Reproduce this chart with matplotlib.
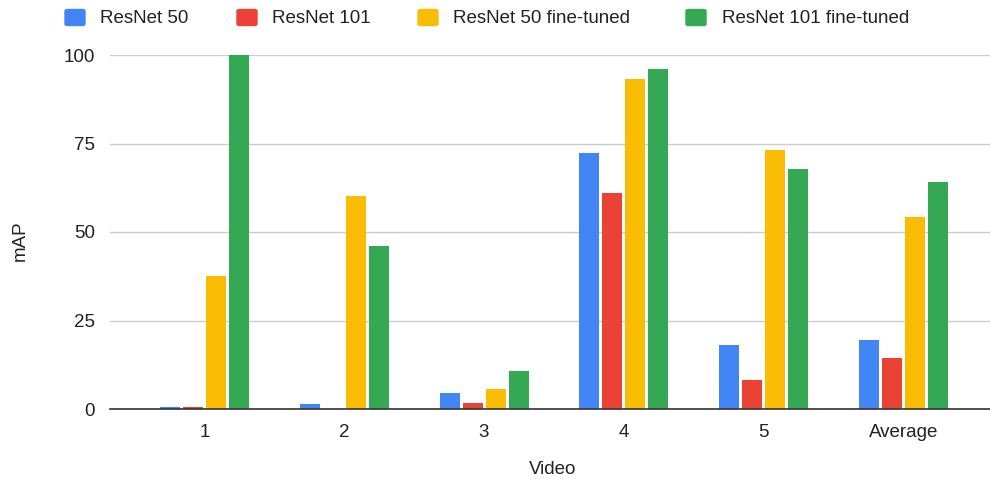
#!/usr/bin/env python3
"""mAP per video for ResNet backbones, before and after fine-tuning."""

import matplotlib
matplotlib.use("Agg")
import matplotlib.pyplot as plt
from matplotlib.patches import FancyBboxPatch
import numpy as np

videos = ["1", "2", "3", "4", "5", "Average"]
series = ["ResNet 50", "ResNet 101", "ResNet 50 fine-tuned", "ResNet 101 fine-tuned"]
resnet50 = [0.5, 1.4, 4.5, 72.3, 18.1, 19.5]
resnet101 = [0.5, 0.0, 1.7, 61.0, 8.2, 14.4]
resnet50_ft = [37.6, 60.2, 5.6, 93.2, 73.2, 54.2]
resnet101_ft = [100.0, 46.0, 10.7, 96.0, 67.8, 64.1]
yticks = [0, 25, 50, 75, 100]

COLORS = ["#4285F4", "#EA4335", "#FBBC04", "#34A853"]
FS = 13.5
W, H = 990, 479
# legend: left edge of swatch and of label, in pixels
LEG_SWATCH_X = [65, 237, 418, 686]
LEG_TEXT_X = [100, 272, 453, 722]


def main() -> None:
    plt.rcParams["font.family"] = ["Liberation Sans", "DejaVu Sans"]

    fig = plt.figure(figsize=(W / 100, H / 100), dpi=100)
    ax = fig.add_axes([110 / W, 70 / H, 880 / W, 354 / H])

    x = np.arange(len(videos))
    pitch = 0.1645
    width = 0.143
    values = [resnet50, resnet101, resnet50_ft, resnet101_ft]
    for i, (name, vals) in enumerate(zip(series, values)):
        ax.bar(x + (i - 1.5) * pitch, vals, width=width, color=COLORS[i],
               label=name, zorder=3)

    ax.set_xlim(-0.676, 5.62)
    ax.set_ylim(0, 100)
    ax.set_yticks(yticks)
    ax.set_xticks(x)
    ax.set_xticklabels(videos)
    ax.tick_params(axis="both", length=0, labelsize=FS, colors="#222222")
    ax.tick_params(axis="x", pad=11)
    ax.tick_params(axis="y", pad=11)
    ax.grid(axis="y", color="#cccccc", linewidth=1, zorder=0)
    for side in ["top", "right", "left"]:
        ax.spines[side].set_visible(False)
    ax.spines["bottom"].set_color("#333333")
    ax.spines["bottom"].set_linewidth(1.2)
    ax.spines["bottom"].set_zorder(4)

    fig.text(20 / W, 1 - 241 / H, "mAP", rotation=90, ha="center", va="center",
             fontsize=FS, color="#222222")
    fig.text(553 / W, 1 - 469 / H, "Video", ha="center", va="center",
             fontsize=FS, color="#222222")

    # legend drawn by hand so the entries sit where the reference has them
    for i, name in enumerate(series):
        sw = FancyBboxPatch((LEG_SWATCH_X[i] / W, 1 - 25.5 / H), 20 / W, 16 / H,
                            boxstyle="round,pad=0,rounding_size=0.003",
                            transform=fig.transFigure, color=COLORS[i])
        fig.patches.append(sw)
        fig.text(LEG_TEXT_X[i] / W, 1 - 23 / H, name, ha="left", va="baseline",
                 fontsize=FS, color="#222222")

    fig.savefig("out.png", dpi=100)
    plt.close(fig)


if __name__ == "__main__":
    main()
